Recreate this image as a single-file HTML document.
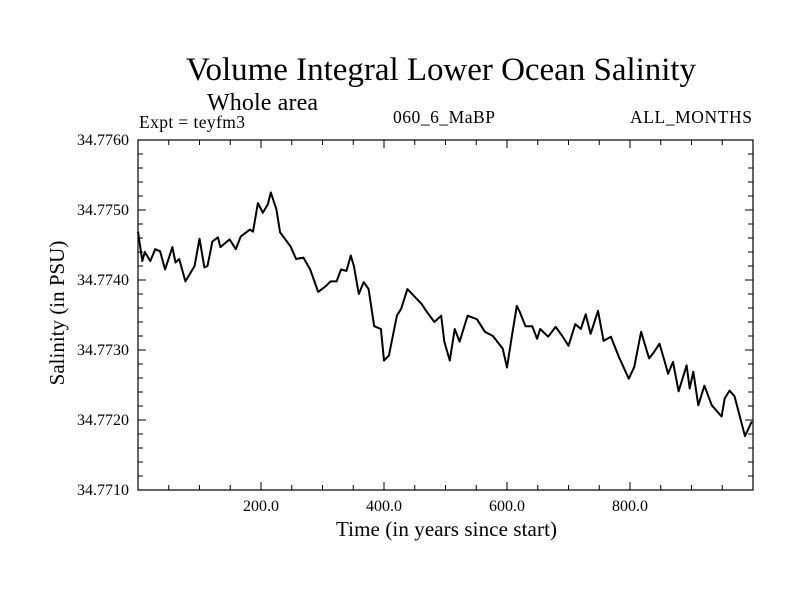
<!DOCTYPE html>
<html><head><meta charset="utf-8"><style>
body{margin:0;background:#fff}
svg text{font-family:"Liberation Serif",serif;fill:#000}
</style></head><body>
<svg width="800" height="600" viewBox="0 0 800 600">
<rect width="800" height="600" fill="#fff"/>
<text x="441" y="80" font-size="33" text-anchor="middle" textLength="510">Volume Integral Lower Ocean Salinity</text>
<text x="207" y="110" font-size="24" textLength="111">Whole area</text>
<text x="139" y="128" font-size="17.5" textLength="106">Expt = teyfm3</text>
<text x="393" y="123" font-size="17.5" textLength="102">060_6_MaBP</text>
<text x="630" y="123" font-size="17.5" textLength="122">ALL_MONTHS</text>
<g id="axes"></g>
<text x="336" y="536" font-size="21" textLength="221">Time (in years since start)</text>
<text transform="translate(64,313) rotate(-90)" font-size="21" text-anchor="middle">Salinity (in PSU)</text>
</svg>
<script>
const years=[0,7,11,20,28,36,44,56,61,67,77,92,100,108,113,121,130,134,149,159,167,182,187,195,203,211,216,225,231,248,257,269,280,293,305,313,323,330,339,346,351,359,367,375,384,395,400,408,421,428,438,449,461,470,482,493,498,507,515,523,536,551,564,577,593,600,608,616,621,630,641,649,654,667,679,690,700,711,720,728,736,748,757,769,782,798,807,818,831,839,848,856,862,870,879,892,897,903,911,921,933,949,954,962,970,987,998];
const salinity=[34.77469,34.77427,34.77440,34.77427,34.77444,34.77441,34.77415,34.77447,34.77425,34.77430,34.77398,34.77420,34.77459,34.77418,34.77420,34.77455,34.77461,34.77447,34.77458,34.77444,34.77462,34.77472,34.77469,34.77510,34.77496,34.77508,34.77525,34.77501,34.77468,34.77448,34.77430,34.77432,34.77415,34.77383,34.77391,34.77398,34.77398,34.77415,34.77413,34.77435,34.77420,34.77380,34.77397,34.77387,34.77334,34.77330,34.77285,34.77292,34.77349,34.77359,34.77387,34.77377,34.77366,34.77354,34.77340,34.77349,34.77312,34.77285,34.77330,34.77312,34.77349,34.77344,34.77326,34.77320,34.77302,34.77275,34.77320,34.77363,34.77354,34.77334,34.77334,34.77316,34.77330,34.77319,34.77333,34.77320,34.77306,34.77337,34.77330,34.77351,34.77323,34.77356,34.77313,34.77319,34.77290,34.77259,34.77276,34.77326,34.77288,34.77297,34.77309,34.77285,34.77266,34.77283,34.77241,34.77278,34.77245,34.77269,34.77221,34.77249,34.77221,34.77205,34.77231,34.77242,34.77234,34.77177,34.77198];
const yTicks=[34.7710,34.7720,34.7730,34.7740,34.7750,34.7760];
const yTickLabels=["34.7710","34.7720","34.7730","34.7740","34.7750","34.7760"];
const xTicks=[200,400,600,800];
const xTickLabels=["200.0","400.0","600.0","800.0"];

const L=138,R=753,T=140,B=490,xMin=0,xMax=1000,yMin=34.7710,yMax=34.7760;
const sx=v=>L+(v-xMin)/(xMax-xMin)*(R-L);
const sy=v=>B-(v-yMin)/(yMax-yMin)*(B-T);
const NS="http://www.w3.org/2000/svg";
const g=document.getElementById('axes');
function mk(tag,attrs){const e=document.createElementNS(NS,tag);for(const k in attrs)e.setAttribute(k,attrs[k]);g.appendChild(e);return e;}
let f=mk('rect',{x:L,y:T,width:R-L,height:B-T,fill:'none',stroke:'#000','stroke-width':1.2});


for(let i=0;i<=25;i++){const v=yMin+i*0.0002;const y=sy(v);const len=(i%5===0)?8:5;
 let t=mk('path',{d:`M${L} ${y}h${len}M${R} ${y}h${-len}`,stroke:'#000','stroke-width':1});
 
 }
yTicks.forEach((v,i)=>{let t=mk('text',{x:L-9,y:sy(v)+5,'font-size':16,'text-anchor':'end'});t.textContent=yTickLabels[i];
 
 });
for(let v=50;v<1000;v+=50){const x=sx(v);const len=(v%200===0)?8:5;
 let t=mk('path',{d:`M${x} ${B}v${-len}M${x} ${T}v${len}`,stroke:'#000','stroke-width':1});
 
 }
xTicks.forEach((v,i)=>{let t=mk('text',{x:sx(v),y:B+21,'font-size':16,'text-anchor':'middle'});t.textContent=xTickLabels[i];
 
 });
let d=years.map((y,i)=>(i?'L':'M')+sx(y).toFixed(1)+' '+sy(salinity[i]).toFixed(1)).join('');
let p=mk('path',{d:d,fill:'none',stroke:'#000','stroke-width':2,'stroke-linejoin':'round'});


</script>
</body></html>
